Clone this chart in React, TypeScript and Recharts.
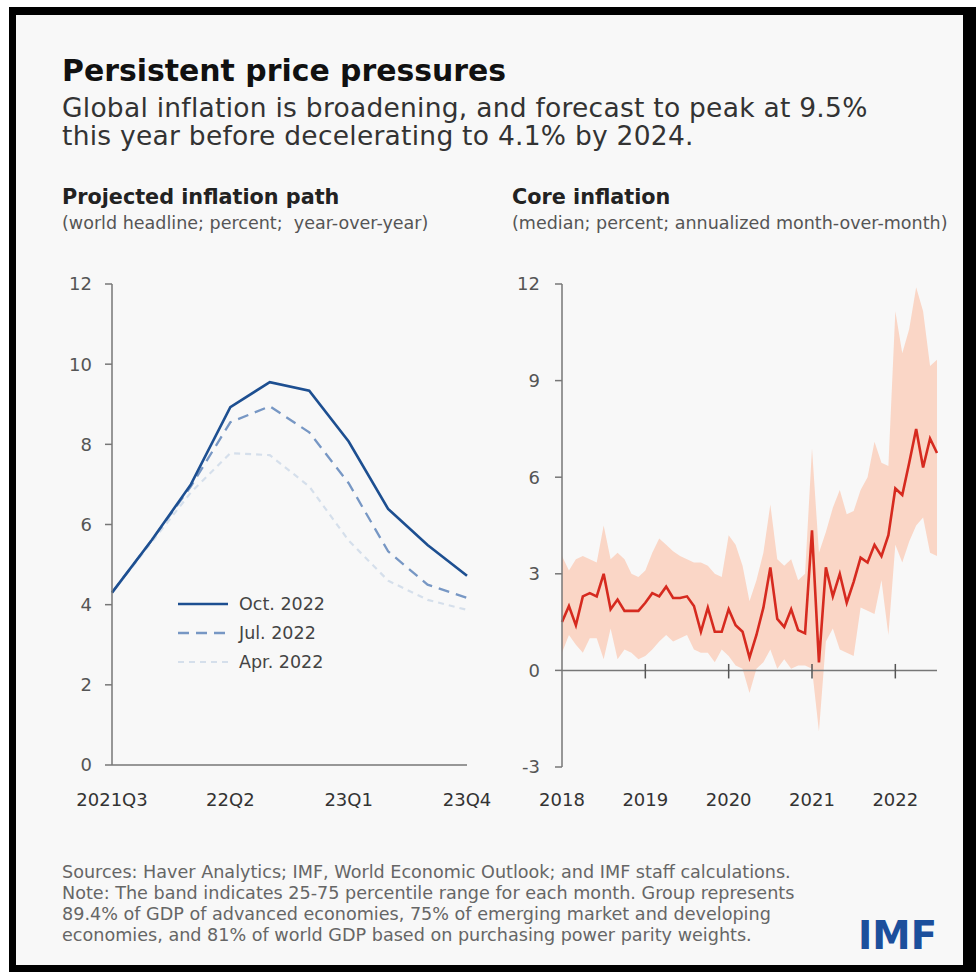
import React from 'react'
import {
  LineChart,
  Line,
  ComposedChart,
  Area,
  XAxis,
  YAxis,
  Legend,
  ReferenceLine,
} from 'recharts'

// Projected inflation path (world headline, % y/y), by WEO vintage
const quarters = ['2021Q3', '21Q4', '22Q1', '22Q2', '22Q3', '22Q4', '23Q1', '23Q2', '23Q3', '23Q4']
const oct2022 = [4.3, 5.6, 7.0, 8.93, 9.55, 9.34, 8.07, 6.39, 5.49, 4.72]
const jul2022 = [4.3, 5.6, 6.95, 8.55, 8.95, 8.3, 7.03, 5.33, 4.5, 4.17]
const apr2022 = [4.3, 5.55, 6.8, 7.78, 7.73, 6.95, 5.6, 4.6, 4.12, 3.87]

// Core inflation, monthly Jan 2018 - Jul 2022 (median, 25th and 75th pct)
const years = ['2018', '2019', '2020', '2021', '2022']
const coreMedian = [
  1.5, 2.0, 1.4, 2.3, 2.4, 2.3, 3.0, 1.9, 2.2, 1.85, 1.85, 1.85,
  2.1, 2.4, 2.3, 2.6, 2.25, 2.25, 2.3, 2.0, 1.2, 1.95, 1.2, 1.2,
  1.9, 1.4, 1.2, 0.4, 1.1, 1.95, 3.2, 1.6, 1.35, 1.9, 1.25, 1.15,
  4.35, 0.25, 3.2, 2.3, 3.0, 2.1, 2.75, 3.5, 3.35, 3.9, 3.55, 4.2,
  5.65, 5.45, 6.45, 7.5, 6.3, 7.2, 6.75,
]
const coreP25 = [
  0.55, 1.1, 0.8, 0.55, 1.0, 1.0, 0.35, 1.3, 0.35, 0.65, 0.55, 0.35,
  0.45, 0.65, 0.9, 1.1, 0.9, 1.0, 1.1, 0.65, 0.55, 0.55, 0.25, 0.65,
  0.45, 0.15, 0.05, -0.7, 0.05, 0.25, 0.65, 0.05, 0.35, 0.05, 0.15, 0.15,
  0.05, -1.9, 0.9, 1.3, 0.65, 0.55, 0.45, 1.95, 1.85, 1.75, 2.8, 1.1,
  3.9, 3.35, 4.0, 4.5, 4.75, 3.65, 3.55,
]
const coreP75 = [
  3.55, 3.1, 3.45, 3.55, 3.45, 3.35, 4.5, 3.45, 3.65, 3.45, 3.0, 2.9,
  3.1, 3.65, 4.1, 3.9, 3.7, 3.55, 3.45, 3.35, 3.35, 3.25, 3.0, 2.9,
  4.2, 3.9, 3.25, 2.15, 2.8, 3.65, 5.15, 3.45, 3.25, 3.45, 2.8, 3.0,
  6.9, 3.65, 4.3, 5.05, 5.6, 4.85, 4.95, 5.6, 6.0, 7.1, 6.45, 6.35,
  11.15, 9.85, 10.6, 11.9, 11.15, 9.45, 9.65,
]

const FONT = '"DejaVu Sans", sans-serif'

const pathData = quarters.map((q, i) => ({
  q,
  oct: oct2022[i],
  jul: jul2022[i],
  apr: apr2022[i],
}))

const coreData = coreMedian.map((v, i) => ({
  i,
  median: v,
  band: [coreP25[i], coreP75[i]],
}))

const series = [
  { key: 'oct', name: 'Oct. 2022', color: '#1d4f91', width: 2.6, dash: undefined },
  { key: 'jul', name: 'Jul. 2022', color: '#7797c4', width: 2.3, dash: '11 7' },
  { key: 'apr', name: 'Apr. 2022', color: '#d5dfeb', width: 2.2, dash: '6 5' },
]

const yTick = { fontSize: 18, fill: '#555', fontFamily: FONT }
const xTick = { fontSize: 18, fill: '#333', fontFamily: FONT }

function PathLegend() {
  return (
    <div style={{ fontFamily: FONT }}>
      {series.map((s) => (
        <div key={s.key} style={{ display: 'flex', alignItems: 'center', height: 29 }}>
          <svg width={52} height={10} style={{ marginRight: 9 }}>
            <line x1={0} y1={5} x2={50} y2={5} stroke={s.color} strokeWidth={s.width} strokeDasharray={s.dash} />
          </svg>
          <span style={{ fontSize: 17.5, color: '#444' }}>{s.name}</span>
        </div>
      ))}
    </div>
  )
}

export default function App() {
  return (
    <div style={{ position: 'absolute', left: 0, top: 0, width: 976, height: 972, background: '#fff', overflow: 'hidden' }}>
      <div style={{
        position: 'absolute',
        left: 9,
        top: 7,
        width: 967,
        height: 965,
        boxSizing: 'border-box',
        borderStyle: 'solid',
        borderColor: '#000',
        borderWidth: '8px 13px 7px 7px',
        background: '#f8f8f8',
      }} />

      <div style={{ position: 'absolute', left: 62, top: 53, fontFamily: FONT, fontWeight: 700, fontSize: 29.9, lineHeight: 1.2, color: '#111', whiteSpace: 'nowrap' }}>
        Persistent price pressures
      </div>
      <div style={{ position: 'absolute', left: 62, top: 94, fontFamily: FONT, fontSize: 26.5, letterSpacing: 0.25, lineHeight: '28px', color: '#333', whiteSpace: 'nowrap' }}>
        Global inflation is broadening, and forecast to peak at 9.5%<br />
        this year before decelerating to 4.1% by 2024.
      </div>

      <div style={{ position: 'absolute', left: 62, top: 185, fontFamily: FONT, fontWeight: 700, fontSize: 20.75, lineHeight: 1.2, color: '#222', whiteSpace: 'nowrap' }}>
        Projected inflation path
      </div>
      <div style={{ position: 'absolute', left: 62, top: 213, fontFamily: FONT, fontSize: 17.55, lineHeight: 1.2, color: '#555', whiteSpace: 'pre' }}>
        (world headline; percent;  year-over-year)
      </div>
      <div style={{ position: 'absolute', left: 512, top: 185, fontFamily: FONT, fontWeight: 700, fontSize: 20.75, lineHeight: 1.2, color: '#222', whiteSpace: 'nowrap' }}>
        Core inflation
      </div>
      <div style={{ position: 'absolute', left: 512, top: 213, fontFamily: FONT, fontSize: 17.55, lineHeight: 1.2, color: '#555', whiteSpace: 'nowrap' }}>
        (median; percent; annualized month-over-month)
      </div>

      <div style={{ position: 'absolute', left: 40, top: 270 }}>
        <LineChart width={470} height={560} data={pathData} margin={{ top: 14, right: 43, left: 0, bottom: 15 }}>
          <XAxis
            dataKey="q"
            interval={2}
            tick={xTick}
            tickLine={false}
            tickSize={0}
            tickMargin={28}
            height={50}
            axisLine={{ stroke: '#777', strokeWidth: 1.5 }}
          />
          <YAxis
            domain={[0, 12]}
            ticks={[0, 2, 4, 6, 8, 10, 12]}
            width={72}
            tick={yTick}
            tickSize={7}
            tickMargin={13}
            tickLine={{ stroke: '#777', strokeWidth: 1.5 }}
            axisLine={{ stroke: '#777', strokeWidth: 1.5 }}
          />
          <Legend
            layout="vertical"
            align="center"
            verticalAlign="middle"
            content={<PathLegend />}
            wrapperStyle={{ left: 138, top: 319, width: 'auto' }}
          />
          {[...series].reverse().map((s) => (
            <Line
              key={s.key}
              type="linear"
              dataKey={s.key}
              name={s.name}
              stroke={s.color}
              strokeWidth={s.width}
              strokeDasharray={s.dash}
              dot={false}
              activeDot={false}
              isAnimationActive={false}
            />
          ))}
        </LineChart>
      </div>

      <div style={{ position: 'absolute', left: 490, top: 270 }}>
        <ComposedChart width={470} height={560} data={coreData} margin={{ top: 14, right: 23, left: 0, bottom: 15 }}>
          <XAxis
            dataKey="i"
            type="number"
            domain={[0, 54]}
            ticks={[0, 12, 24, 36, 48]}
            tickFormatter={(v: number) => years[v / 12]}
            tick={xTick}
            tickLine={false}
            tickSize={0}
            tickMargin={26}
            height={48}
            axisLine={false}
          />
          <YAxis
            domain={[-3, 12]}
            ticks={[-3, 0, 3, 6, 9, 12]}
            width={72}
            tick={yTick}
            tickSize={7}
            tickMargin={15}
            tickLine={{ stroke: '#777', strokeWidth: 1.5 }}
            axisLine={{ stroke: '#777', strokeWidth: 1.5 }}
          />
          <Area
            type="linear"
            dataKey="band"
            stroke="none"
            fill="#fad6c6"
            fillOpacity={1}
            isAnimationActive={false}
          />
          <ReferenceLine y={0} stroke="#777" strokeWidth={1.5} />
          {[12, 24, 36, 48].map((x) => (
            <ReferenceLine
              key={x}
              segment={[{ x, y: -0.25 }, { x, y: 0.2 }]}
              stroke="#555"
              strokeWidth={1.5}
            />
          ))}
          <Line
            type="linear"
            dataKey="median"
            stroke="#d62a1f"
            strokeWidth={2.6}
            dot={false}
            activeDot={false}
            isAnimationActive={false}
          />
        </ComposedChart>
      </div>

      <div style={{ position: 'absolute', left: 62, top: 862, fontFamily: FONT, fontSize: 17.6, lineHeight: '21px', color: '#666', whiteSpace: 'nowrap' }}>
        Sources: Haver Analytics; IMF, World Economic Outlook; and IMF staff calculations.<br />
        Note: The band indicates 25-75 percentile range for each month. Group represents<br />
        89.4% of GDP of advanced economies, 75% of emerging market and developing<br />
        economies, and 81% of world GDP based on purchasing power parity weights.
      </div>
      <div style={{ position: 'absolute', left: 858, top: 913, fontFamily: FONT, fontWeight: 700, fontSize: 38.5, lineHeight: 1.2, color: '#1c4f9c', whiteSpace: 'nowrap' }}>
        IMF
      </div>
    </div>
  )
}
